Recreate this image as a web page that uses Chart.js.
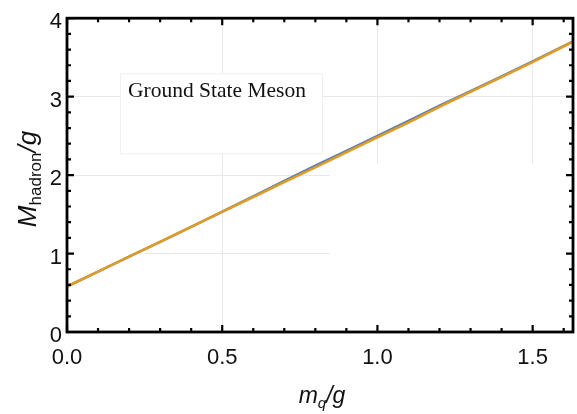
<!DOCTYPE html>
<html><head><meta charset="utf-8">
<script src="https://cdn.jsdelivr.net/npm/chart.js@4"></script>
<style>html,body{margin:0;padding:0;background:#fff}#wrap{width:577px;height:414px}</style>
</head><body><div id="wrap"><canvas id="c" width="577" height="414"></canvas></div>
<script>
const mqValues = [0, 0.1, 0.2, 0.3, 0.4, 0.5, 0.6, 0.7, 0.8, 0.9, 1.0, 1.1, 1.2, 1.3, 1.4, 1.5, 1.63];
const mesonOrange = [0.58, 0.77, 0.96, 1.15, 1.34, 1.53, 1.72, 1.91, 2.10, 2.29, 2.48, 2.67, 2.87, 3.06, 3.25, 3.44, 3.70];
const mesonBlue   = [0.58, 0.77, 0.96, 1.15, 1.34, 1.535, 1.73, 1.925, 2.12, 2.31, 2.50, 2.69, 2.885, 3.07, 3.26, 3.45, 3.705];
const xTickValues = [0, 0.5, 1.0, 1.5];
const yTickValues = [0, 1, 2, 3, 4];
const annotationText = "Ground State Meson";

const toXY = (xs, ys) => xs.map((x, i) => ({x: x, y: ys[i]}));

const framePlugin = {
  id: 'frame',
  beforeDatasetsDraw(chart) {
    const ctx = chart.ctx, a = chart.chartArea;
    ctx.save();
    ctx.fillStyle = '#ffffff';
    ctx.fillRect(a.left + 53, a.top + 55, 202, 80);
    ctx.fillRect(330, 164, a.right - 332, a.bottom - 166);
    ctx.fillRect(a.left + 2, 240, 76, 20);
    ctx.strokeStyle = '#f0f0f0';
    ctx.lineWidth = 1;
    ctx.strokeRect(a.left + 53.5, a.top + 55.5, 202, 80);
    ctx.restore();
  },
  afterDraw(chart) {
    const ctx = chart.ctx, a = chart.chartArea;
    const xs = chart.scales.x, ys = chart.scales.y;
    ctx.save();
    ctx.strokeStyle = '#000';
    ctx.lineWidth = 2.2;
    for (let i = 0; i <= 16; i++) {
      const v = i / 10;
      const px = xs.getPixelForValue(v);
      const major = (i % 5 === 0);
      const len = major ? 7 : 4;
      ctx.beginPath();
      ctx.moveTo(px, a.bottom); ctx.lineTo(px, a.bottom - len);
      ctx.moveTo(px, a.top); ctx.lineTo(px, a.top + len);
      ctx.stroke();
    }
    for (let i = 0; i <= 20; i++) {
      const v = i / 5;
      const py = ys.getPixelForValue(v);
      const major = (i % 5 === 0);
      const len = major ? 7 : 4;
      ctx.beginPath();
      ctx.moveTo(a.left, py); ctx.lineTo(a.left + len, py);
      ctx.moveTo(a.right, py); ctx.lineTo(a.right - len, py);
      ctx.stroke();
    }
    ctx.lineWidth = 2.8;
    ctx.strokeRect(a.left, a.top, a.right - a.left, a.bottom - a.top);

    ctx.fillStyle = '#111';
    ctx.font = '21.5px "Liberation Serif", "DejaVu Serif", serif';
    ctx.textBaseline = 'alphabetic';
    ctx.textAlign = 'left';
    ctx.fillText(annotationText, 128, 97);

    const xc = (a.left + a.right) / 2;
    const parts = [
      {t: 'm', f: 'italic 23px "Liberation Sans", Arial, sans-serif', dy: 0},
      {t: 'q', f: 'italic 15px "Liberation Sans", Arial, sans-serif', dy: 5},
      {t: '/g', f: 'italic 23px "Liberation Sans", Arial, sans-serif', dy: 0}
    ];
    let w = 0;
    parts.forEach(p => { ctx.font = p.f; p.w = ctx.measureText(p.t).width; w += p.w; });
    let x0 = xc - w / 2 + 2;
    const by = 403;
    parts.forEach(p => { ctx.font = p.f; ctx.fillText(p.t, x0, by + p.dy); x0 += p.w; });

    ctx.translate(36, 179);
    ctx.rotate(-Math.PI / 2);
    const yparts = [
      {t: 'M', f: 'italic 26px "Liberation Sans", Arial, sans-serif', dy: 0},
      {t: 'hadron', f: '17px "Liberation Sans", Arial, sans-serif', dy: 5},
      {t: '/g', f: 'italic 26px "Liberation Sans", Arial, sans-serif', dy: 0}
    ];
    w = 0;
    yparts.forEach(p => { ctx.font = p.f; p.w = ctx.measureText(p.t).width; w += p.w; });
    x0 = -w / 2;
    yparts.forEach(p => { ctx.font = p.f; ctx.fillText(p.t, x0, p.dy); x0 += p.w; });
    ctx.restore();
  }
};

new Chart(document.getElementById('c'), {
  type: 'line',
  data: {
    datasets: [
      {label: 'blue', data: toXY(mqValues, mesonBlue), borderColor: '#5E81B5', borderWidth: 2.5, pointRadius: 0, order: 1, tension: 0},
      {label: 'orange', data: toXY(mqValues, mesonOrange), borderColor: '#E19C24', borderWidth: 2.5, pointRadius: 0, order: 0, tension: 0}
    ]
  },
  options: {
    responsive: false,
    animation: false,
    layout: {padding: {top: 15, right: 4, left: 0, bottom: 0}},
    plugins: {legend: {display: false}, tooltip: {enabled: false}},
    scales: {
      x: {
        type: 'linear', min: 0, max: 1.63,
        afterBuildTicks: s => { s.ticks = xTickValues.map(v => ({value: v})); },
        afterFit: s => { s.height = 82; },
        grid: {color: '#e8e8e8', lineWidth: 1, drawTicks: false},
        border: {display: false},
        ticks: {color: '#111', padding: 13, font: {size: 22, family: '"Liberation Sans", Arial, sans-serif'},
                maxRotation: 0, callback: v => Number(v).toFixed(1)}
      },
      y: {
        type: 'linear', min: 0, max: 4,
        afterBuildTicks: s => { s.ticks = yTickValues.map(v => ({value: v})); },
        afterFit: s => { s.width = 67; },
        grid: {color: '#e8e8e8', lineWidth: 1, drawTicks: false},
        border: {display: false},
        ticks: {color: '#111', padding: 5, labelOffset: 4, font: {size: 22, family: '"Liberation Sans", Arial, sans-serif'},
                callback: v => String(v)}
      }
    }
  },
  plugins: [framePlugin]
});
</script></body></html>
